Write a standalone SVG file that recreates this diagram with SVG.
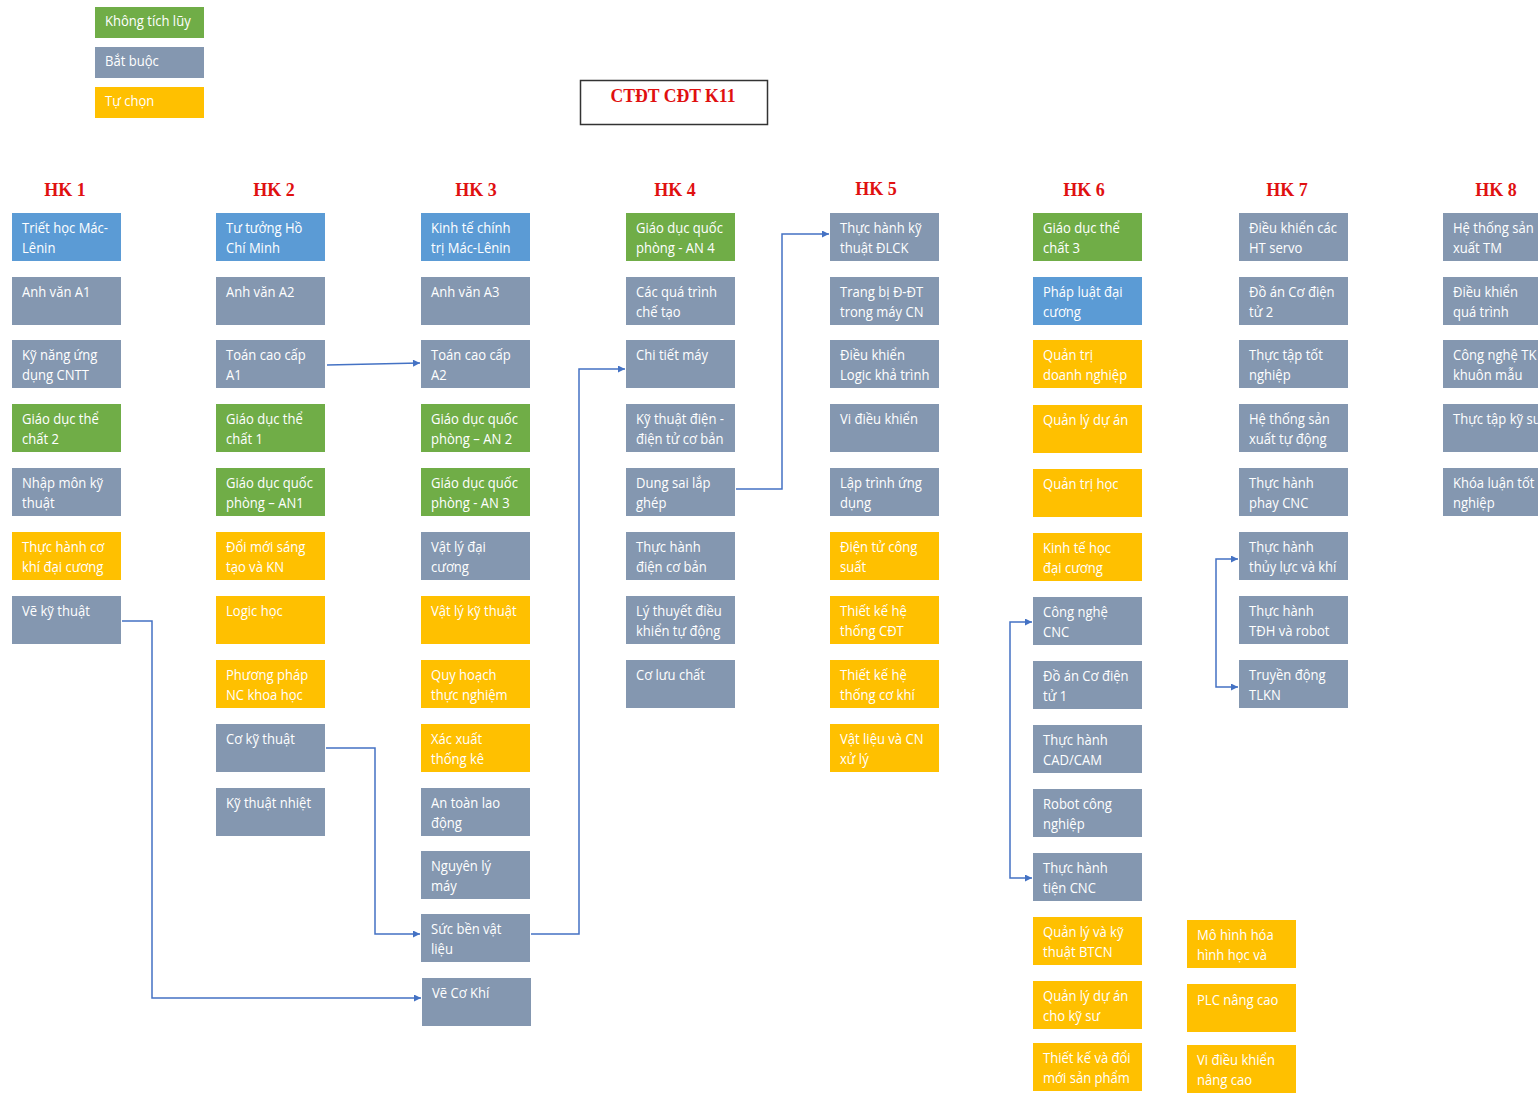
<svg xmlns="http://www.w3.org/2000/svg" width="1538" height="1093" viewBox="0 0 1538 1093">
<style>
.b{fill:#8497B0}.bl{fill:#5B9BD5}.g{fill:#70AD47}.o{fill:#FFC000}
.t{font-family:"Open Sans","Noto Sans",sans-serif;font-size:15px;fill:#fff}
.hk{font-family:"Liberation Serif",serif;font-weight:bold;font-size:18px;fill:#E01010;text-anchor:middle}
.c{fill:none;stroke:#4472C4;stroke-width:1.5}
</style>
<defs>
<marker id="ah" viewBox="0 0 10 10" refX="10" refY="5" markerWidth="8" markerHeight="7" markerUnits="userSpaceOnUse" orient="auto-start-reverse"><path d="M0,0 L10,5 L0,10 z" fill="#4472C4"/></marker>
</defs>
<rect width="1538" height="1093" fill="#fff"/>

<g id="legend">
<rect class="g" x="95" y="7" width="109" height="31"/><text class="t" transform="translate(105 26) scale(.87 1)">Không tích lũy</text>
<rect class="b" x="95" y="47" width="109" height="31"/><text class="t" transform="translate(105 66) scale(.87 1)">Bắt buộc</text>
<rect class="o" x="95" y="87" width="109" height="31"/><text class="t" transform="translate(105 106) scale(.87 1)">Tự chọn</text>
</g>

<g id="title">
<rect x="580.5" y="80.5" width="187" height="44" fill="#fff" stroke="#333" stroke-width="1.5"/>
<text class="hk" x="673" y="102" textLength="125" lengthAdjust="spacingAndGlyphs">CTĐT CĐT K11</text>
</g>

<g id="headers">
<text class="hk" x="65" y="196">HK 1</text>
<text class="hk" x="274" y="196">HK 2</text>
<text class="hk" x="476" y="196">HK 3</text>
<text class="hk" x="675" y="196">HK 4</text>
<text class="hk" x="876" y="195">HK 5</text>
<text class="hk" x="1084" y="196">HK 6</text>
<text class="hk" x="1287" y="196">HK 7</text>
<text class="hk" x="1496" y="196">HK 8</text>
</g>

<g id="connectors">
<path class="c" d="M327,365 L420,363" marker-end="url(#ah)"/>
<path class="c" d="M122,621 H152 V998 H421" marker-end="url(#ah)"/>
<path class="c" d="M326,748 H375 V934 H420" marker-end="url(#ah)"/>
<path class="c" d="M531,934 H579 V369 H625" marker-end="url(#ah)"/>
<path class="c" d="M736,489 H782 V234 H829" marker-end="url(#ah)"/>
<path class="c" d="M1032,622 H1010 V878 H1032" marker-start="url(#ah)" marker-end="url(#ah)"/>
<path class="c" d="M1238,559 H1216 V687 H1238" marker-start="url(#ah)" marker-end="url(#ah)"/>
</g>

<!-- HK1 -->
<g id="hk1-1"><rect class="bl" x="12" y="213" width="109" height="48"/><text class="t" transform="translate(22 233) scale(.87 1)"><tspan x="0">Triết học Mác-</tspan><tspan x="0" dy="20">Lênin</tspan></text></g>
<g id="hk1-2"><rect class="b" x="12" y="277" width="109" height="48"/><text class="t" transform="translate(22 297) scale(.87 1)"><tspan x="0">Anh văn A1</tspan></text></g>
<g id="hk1-3"><rect class="b" x="12" y="340" width="109" height="48"/><text class="t" transform="translate(22 360) scale(.87 1)"><tspan x="0">Kỹ năng ứng</tspan><tspan x="0" dy="20">dụng CNTT</tspan></text></g>
<g id="hk1-4"><rect class="g" x="12" y="404" width="109" height="48"/><text class="t" transform="translate(22 424) scale(.87 1)"><tspan x="0">Giáo dục thể</tspan><tspan x="0" dy="20">chất 2</tspan></text></g>
<g id="hk1-5"><rect class="b" x="12" y="468" width="109" height="48"/><text class="t" transform="translate(22 488) scale(.87 1)"><tspan x="0">Nhập môn kỹ</tspan><tspan x="0" dy="20">thuật</tspan></text></g>
<g id="hk1-6"><rect class="o" x="12" y="532" width="109" height="48"/><text class="t" transform="translate(22 552) scale(.87 1)"><tspan x="0">Thực hành cơ</tspan><tspan x="0" dy="20">khí đại cương</tspan></text></g>
<g id="hk1-7"><rect class="b" x="12" y="596" width="109" height="48"/><text class="t" transform="translate(22 616) scale(.87 1)"><tspan x="0">Vẽ kỹ thuật</tspan></text></g>

<!-- HK2 -->
<g id="hk2-1"><rect class="bl" x="216" y="213" width="109" height="48"/><text class="t" transform="translate(226 233) scale(.87 1)"><tspan x="0">Tư tưởng Hồ</tspan><tspan x="0" dy="20">Chí Minh</tspan></text></g>
<g id="hk2-2"><rect class="b" x="216" y="277" width="109" height="48"/><text class="t" transform="translate(226 297) scale(.87 1)"><tspan x="0">Anh văn A2</tspan></text></g>
<g id="hk2-3"><rect class="b" x="216" y="340" width="109" height="48"/><text class="t" transform="translate(226 360) scale(.87 1)"><tspan x="0">Toán cao cấp</tspan><tspan x="0" dy="20">A1</tspan></text></g>
<g id="hk2-4"><rect class="g" x="216" y="404" width="109" height="48"/><text class="t" transform="translate(226 424) scale(.87 1)"><tspan x="0">Giáo dục thể</tspan><tspan x="0" dy="20">chất 1</tspan></text></g>
<g id="hk2-5"><rect class="g" x="216" y="468" width="109" height="48"/><text class="t" transform="translate(226 488) scale(.87 1)"><tspan x="0">Giáo dục quốc</tspan><tspan x="0" dy="20">phòng – AN1</tspan></text></g>
<g id="hk2-6"><rect class="o" x="216" y="532" width="109" height="48"/><text class="t" transform="translate(226 552) scale(.87 1)"><tspan x="0">Đổi mới sáng</tspan><tspan x="0" dy="20">tạo và KN</tspan></text></g>
<g id="hk2-7"><rect class="o" x="216" y="596" width="109" height="48"/><text class="t" transform="translate(226 616) scale(.87 1)"><tspan x="0">Logic học</tspan></text></g>
<g id="hk2-8"><rect class="o" x="216" y="660" width="109" height="48"/><text class="t" transform="translate(226 680) scale(.87 1)"><tspan x="0">Phương pháp</tspan><tspan x="0" dy="20">NC khoa học</tspan></text></g>
<g id="hk2-9"><rect class="b" x="216" y="724" width="109" height="48"/><text class="t" transform="translate(226 744) scale(.87 1)"><tspan x="0">Cơ kỹ thuật</tspan></text></g>
<g id="hk2-10"><rect class="b" x="216" y="788" width="109" height="48"/><text class="t" transform="translate(226 808) scale(.87 1)"><tspan x="0">Kỹ thuật nhiệt</tspan></text></g>

<!-- HK3 -->
<g id="hk3-1"><rect class="bl" x="421" y="213" width="109" height="48"/><text class="t" transform="translate(431 233) scale(.87 1)"><tspan x="0">Kinh tế chính</tspan><tspan x="0" dy="20">trị Mác-Lênin</tspan></text></g>
<g id="hk3-2"><rect class="b" x="421" y="277" width="109" height="48"/><text class="t" transform="translate(431 297) scale(.87 1)"><tspan x="0">Anh văn A3</tspan></text></g>
<g id="hk3-3"><rect class="b" x="421" y="340" width="109" height="48"/><text class="t" transform="translate(431 360) scale(.87 1)"><tspan x="0">Toán cao cấp</tspan><tspan x="0" dy="20">A2</tspan></text></g>
<g id="hk3-4"><rect class="g" x="421" y="404" width="109" height="48"/><text class="t" transform="translate(431 424) scale(.87 1)"><tspan x="0">Giáo dục quốc</tspan><tspan x="0" dy="20">phòng – AN 2</tspan></text></g>
<g id="hk3-5"><rect class="g" x="421" y="468" width="109" height="48"/><text class="t" transform="translate(431 488) scale(.87 1)"><tspan x="0">Giáo dục quốc</tspan><tspan x="0" dy="20">phòng - AN 3</tspan></text></g>
<g id="hk3-6"><rect class="b" x="421" y="532" width="109" height="48"/><text class="t" transform="translate(431 552) scale(.87 1)"><tspan x="0">Vật lý đại</tspan><tspan x="0" dy="20">cương</tspan></text></g>
<g id="hk3-7"><rect class="o" x="421" y="596" width="109" height="48"/><text class="t" transform="translate(431 616) scale(.87 1)"><tspan x="0">Vật lý kỹ thuật</tspan></text></g>
<g id="hk3-8"><rect class="o" x="421" y="660" width="109" height="48"/><text class="t" transform="translate(431 680) scale(.87 1)"><tspan x="0">Quy hoạch</tspan><tspan x="0" dy="20">thực nghiệm</tspan></text></g>
<g id="hk3-9"><rect class="o" x="421" y="724" width="109" height="48"/><text class="t" transform="translate(431 744) scale(.87 1)"><tspan x="0">Xác xuất</tspan><tspan x="0" dy="20">thống kê</tspan></text></g>
<g id="hk3-10"><rect class="b" x="421" y="788" width="109" height="48"/><text class="t" transform="translate(431 808) scale(.87 1)"><tspan x="0">An toàn lao</tspan><tspan x="0" dy="20">động</tspan></text></g>
<g id="hk3-11"><rect class="b" x="421" y="851" width="109" height="48"/><text class="t" transform="translate(431 871) scale(.87 1)"><tspan x="0">Nguyên lý</tspan><tspan x="0" dy="20">máy</tspan></text></g>
<g id="hk3-12"><rect class="b" x="421" y="914" width="109" height="48"/><text class="t" transform="translate(431 934) scale(.87 1)"><tspan x="0">Sức bền vật</tspan><tspan x="0" dy="20">liệu</tspan></text></g>
<g id="hk3-13"><rect class="b" x="422" y="978" width="109" height="48"/><text class="t" transform="translate(432 998) scale(.87 1)"><tspan x="0">Vẽ Cơ Khí</tspan></text></g>

<!-- HK4 -->
<g id="hk4-1"><rect class="g" x="626" y="213" width="109" height="48"/><text class="t" transform="translate(636 233) scale(.87 1)"><tspan x="0">Giáo dục quốc</tspan><tspan x="0" dy="20">phòng - AN 4</tspan></text></g>
<g id="hk4-2"><rect class="b" x="626" y="277" width="109" height="48"/><text class="t" transform="translate(636 297) scale(.87 1)"><tspan x="0">Các quá trình</tspan><tspan x="0" dy="20">chế tạo</tspan></text></g>
<g id="hk4-3"><rect class="b" x="626" y="340" width="109" height="48"/><text class="t" transform="translate(636 360) scale(.87 1)"><tspan x="0">Chi tiết máy</tspan></text></g>
<g id="hk4-4"><rect class="b" x="626" y="404" width="109" height="48"/><text class="t" transform="translate(636 424) scale(.87 1)"><tspan x="0">Kỹ thuật điện -</tspan><tspan x="0" dy="20">điện tử cơ bản</tspan></text></g>
<g id="hk4-5"><rect class="b" x="626" y="468" width="109" height="48"/><text class="t" transform="translate(636 488) scale(.87 1)"><tspan x="0">Dung sai lắp</tspan><tspan x="0" dy="20">ghép</tspan></text></g>
<g id="hk4-6"><rect class="b" x="626" y="532" width="109" height="48"/><text class="t" transform="translate(636 552) scale(.87 1)"><tspan x="0">Thực hành</tspan><tspan x="0" dy="20">điện cơ bản</tspan></text></g>
<g id="hk4-7"><rect class="b" x="626" y="596" width="109" height="48"/><text class="t" transform="translate(636 616) scale(.87 1)"><tspan x="0">Lý thuyết điều</tspan><tspan x="0" dy="20">khiển tự động</tspan></text></g>
<g id="hk4-8"><rect class="b" x="626" y="660" width="109" height="48"/><text class="t" transform="translate(636 680) scale(.87 1)"><tspan x="0">Cơ lưu chất</tspan></text></g>

<!-- HK5 -->
<g id="hk5-1"><rect class="b" x="830" y="213" width="109" height="48"/><text class="t" transform="translate(840 233) scale(.87 1)"><tspan x="0">Thực hành kỹ</tspan><tspan x="0" dy="20">thuật ĐLCK</tspan></text></g>
<g id="hk5-2"><rect class="b" x="830" y="277" width="109" height="48"/><text class="t" transform="translate(840 297) scale(.87 1)"><tspan x="0">Trang bị Đ-ĐT</tspan><tspan x="0" dy="20">trong máy CN</tspan></text></g>
<g id="hk5-3"><rect class="b" x="830" y="340" width="109" height="48"/><text class="t" transform="translate(840 360) scale(.87 1)"><tspan x="0">Điều khiển</tspan><tspan x="0" dy="20">Logic khả trình</tspan></text></g>
<g id="hk5-4"><rect class="b" x="830" y="404" width="109" height="48"/><text class="t" transform="translate(840 424) scale(.87 1)"><tspan x="0">Vi điều khiển</tspan></text></g>
<g id="hk5-5"><rect class="b" x="830" y="468" width="109" height="48"/><text class="t" transform="translate(840 488) scale(.87 1)"><tspan x="0">Lập trình ứng</tspan><tspan x="0" dy="20">dụng</tspan></text></g>
<g id="hk5-6"><rect class="o" x="830" y="532" width="109" height="48"/><text class="t" transform="translate(840 552) scale(.87 1)"><tspan x="0">Điện tử công</tspan><tspan x="0" dy="20">suất</tspan></text></g>
<g id="hk5-7"><rect class="o" x="830" y="596" width="109" height="48"/><text class="t" transform="translate(840 616) scale(.87 1)"><tspan x="0">Thiết kế hệ</tspan><tspan x="0" dy="20">thống CĐT</tspan></text></g>
<g id="hk5-8"><rect class="o" x="830" y="660" width="109" height="48"/><text class="t" transform="translate(840 680) scale(.87 1)"><tspan x="0">Thiết kế hệ</tspan><tspan x="0" dy="20">thống cơ khí</tspan></text></g>
<g id="hk5-9"><rect class="o" x="830" y="724" width="109" height="48"/><text class="t" transform="translate(840 744) scale(.87 1)"><tspan x="0">Vật liệu và CN</tspan><tspan x="0" dy="20">xử lý</tspan></text></g>

<!-- HK6 -->
<g id="hk6-1"><rect class="g" x="1033" y="213" width="109" height="48"/><text class="t" transform="translate(1043 233) scale(.87 1)"><tspan x="0">Giáo dục thể</tspan><tspan x="0" dy="20">chất 3</tspan></text></g>
<g id="hk6-2"><rect class="bl" x="1033" y="277" width="109" height="48"/><text class="t" transform="translate(1043 297) scale(.87 1)"><tspan x="0">Pháp luật đại</tspan><tspan x="0" dy="20">cương</tspan></text></g>
<g id="hk6-3"><rect class="o" x="1033" y="340" width="109" height="48"/><text class="t" transform="translate(1043 360) scale(.87 1)"><tspan x="0">Quản trị</tspan><tspan x="0" dy="20">doanh nghiệp</tspan></text></g>
<g id="hk6-4"><rect class="o" x="1033" y="405" width="109" height="48"/><text class="t" transform="translate(1043 425) scale(.87 1)"><tspan x="0">Quản lý dự án</tspan></text></g>
<g id="hk6-5"><rect class="o" x="1033" y="469" width="109" height="48"/><text class="t" transform="translate(1043 489) scale(.87 1)"><tspan x="0">Quản trị học</tspan></text></g>
<g id="hk6-6"><rect class="o" x="1033" y="533" width="109" height="48"/><text class="t" transform="translate(1043 553) scale(.87 1)"><tspan x="0">Kinh tế học</tspan><tspan x="0" dy="20">đại cương</tspan></text></g>
<g id="hk6-7"><rect class="b" x="1033" y="597" width="109" height="48"/><text class="t" transform="translate(1043 617) scale(.87 1)"><tspan x="0">Công nghệ</tspan><tspan x="0" dy="20">CNC</tspan></text></g>
<g id="hk6-8"><rect class="b" x="1033" y="661" width="109" height="48"/><text class="t" transform="translate(1043 681) scale(.87 1)"><tspan x="0">Đồ án Cơ điện</tspan><tspan x="0" dy="20">tử 1</tspan></text></g>
<g id="hk6-9"><rect class="b" x="1033" y="725" width="109" height="48"/><text class="t" transform="translate(1043 745) scale(.87 1)"><tspan x="0">Thực hành</tspan><tspan x="0" dy="20">CAD/CAM</tspan></text></g>
<g id="hk6-10"><rect class="b" x="1033" y="789" width="109" height="48"/><text class="t" transform="translate(1043 809) scale(.87 1)"><tspan x="0">Robot công</tspan><tspan x="0" dy="20">nghiệp</tspan></text></g>
<g id="hk6-11"><rect class="b" x="1033" y="853" width="109" height="48"/><text class="t" transform="translate(1043 873) scale(.87 1)"><tspan x="0">Thực hành</tspan><tspan x="0" dy="20">tiện CNC</tspan></text></g>
<g id="hk6-12"><rect class="o" x="1033" y="917" width="109" height="48"/><text class="t" transform="translate(1043 937) scale(.87 1)"><tspan x="0">Quản lý và kỹ</tspan><tspan x="0" dy="20">thuật BTCN</tspan></text></g>
<g id="hk6-13"><rect class="o" x="1033" y="981" width="109" height="48"/><text class="t" transform="translate(1043 1001) scale(.87 1)"><tspan x="0">Quản lý dự án</tspan><tspan x="0" dy="20">cho kỹ sư</tspan></text></g>
<g id="hk6-14"><rect class="o" x="1033" y="1043" width="109" height="48"/><text class="t" transform="translate(1043 1063) scale(.87 1)"><tspan x="0">Thiết kế và đổi</tspan><tspan x="0" dy="20">mới sản phẩm</tspan></text></g>

<!-- HK7 -->
<g id="hk7-1"><rect class="b" x="1239" y="213" width="109" height="48"/><text class="t" transform="translate(1249 233) scale(.87 1)"><tspan x="0">Điều khiển các</tspan><tspan x="0" dy="20">HT servo</tspan></text></g>
<g id="hk7-2"><rect class="b" x="1239" y="277" width="109" height="48"/><text class="t" transform="translate(1249 297) scale(.87 1)"><tspan x="0">Đồ án Cơ điện</tspan><tspan x="0" dy="20">tử 2</tspan></text></g>
<g id="hk7-3"><rect class="b" x="1239" y="340" width="109" height="48"/><text class="t" transform="translate(1249 360) scale(.87 1)"><tspan x="0">Thực tập tốt</tspan><tspan x="0" dy="20">nghiệp</tspan></text></g>
<g id="hk7-4"><rect class="b" x="1239" y="404" width="109" height="48"/><text class="t" transform="translate(1249 424) scale(.87 1)"><tspan x="0">Hệ thống sản</tspan><tspan x="0" dy="20">xuất tự động</tspan></text></g>
<g id="hk7-5"><rect class="b" x="1239" y="468" width="109" height="48"/><text class="t" transform="translate(1249 488) scale(.87 1)"><tspan x="0">Thực hành</tspan><tspan x="0" dy="20">phay CNC</tspan></text></g>
<g id="hk7-6"><rect class="b" x="1239" y="532" width="109" height="48"/><text class="t" transform="translate(1249 552) scale(.87 1)"><tspan x="0">Thực hành</tspan><tspan x="0" dy="20">thủy lực và khí</tspan></text></g>
<g id="hk7-7"><rect class="b" x="1239" y="596" width="109" height="48"/><text class="t" transform="translate(1249 616) scale(.87 1)"><tspan x="0">Thực hành</tspan><tspan x="0" dy="20">TĐH và robot</tspan></text></g>
<g id="hk7-8"><rect class="b" x="1239" y="660" width="109" height="48"/><text class="t" transform="translate(1249 680) scale(.87 1)"><tspan x="0">Truyền động</tspan><tspan x="0" dy="20">TLKN</tspan></text></g>

<!-- extra electives -->
<g id="ex-1"><rect class="o" x="1187" y="920" width="109" height="48"/><text class="t" transform="translate(1197 940) scale(.87 1)"><tspan x="0">Mô hình hóa</tspan><tspan x="0" dy="20">hình học và</tspan></text></g>
<g id="ex-2"><rect class="o" x="1187" y="984" width="109" height="48"/><text class="t" transform="translate(1197 1005) scale(.87 1)"><tspan x="0">PLC nâng cao</tspan></text></g>
<g id="ex-3"><rect class="o" x="1187" y="1045" width="109" height="48"/><text class="t" transform="translate(1197 1065) scale(.87 1)"><tspan x="0">Vi điều khiển</tspan><tspan x="0" dy="20">nâng cao</tspan></text></g>

<!-- HK8 -->
<g id="hk8-1"><rect class="b" x="1443" y="213" width="109" height="48"/><text class="t" transform="translate(1453 233) scale(.87 1)"><tspan x="0">Hệ thống sản</tspan><tspan x="0" dy="20">xuất TM</tspan></text></g>
<g id="hk8-2"><rect class="b" x="1443" y="277" width="109" height="48"/><text class="t" transform="translate(1453 297) scale(.87 1)"><tspan x="0">Điều khiển</tspan><tspan x="0" dy="20">quá trình</tspan></text></g>
<g id="hk8-3"><rect class="b" x="1443" y="340" width="109" height="48"/><text class="t" transform="translate(1453 360) scale(.87 1)"><tspan x="0">Công nghệ TK</tspan><tspan x="0" dy="20">khuôn mẫu</tspan></text></g>
<g id="hk8-4"><rect class="b" x="1443" y="404" width="109" height="48"/><text class="t" transform="translate(1453 424) scale(.87 1)"><tspan x="0">Thực tập kỹ sư</tspan></text></g>
<g id="hk8-5"><rect class="b" x="1443" y="468" width="109" height="48"/><text class="t" transform="translate(1453 488) scale(.87 1)"><tspan x="0">Khóa luận tốt</tspan><tspan x="0" dy="20">nghiệp</tspan></text></g>
</svg>
